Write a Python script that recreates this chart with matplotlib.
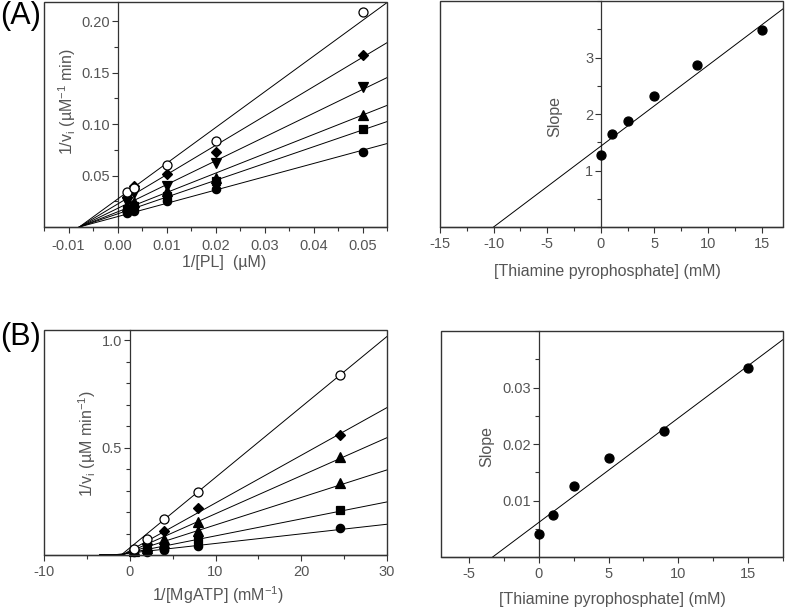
import matplotlib
matplotlib.use('Agg')
import matplotlib.pyplot as plt
import numpy as np
from matplotlib.ticker import MultipleLocator, FixedLocator, FormatStrFormatter
from matplotlib.patches import Rectangle

plt.rcParams['font.family'] = ['Liberation Sans', 'DejaVu Sans']
plt.rcParams['mathtext.default'] = 'regular'
plt.rcParams['axes.unicode_minus'] = False

# ---------------- data ----------------
# Panel A (left): 1/v vs 1/[PL]
pl_x = [0.002, 0.0033, 0.01, 0.02, 0.05]
a_open    = [0.034, 0.038, 0.0603, 0.0837, 0.209]
a_diamond = [0.029, 0.0395, 0.0519, 0.0731, 0.1675]
a_invtri  = [0.024, 0.033, 0.0395, 0.0623, 0.136]
a_tri     = [0.020, 0.024, 0.0346, 0.0477, 0.1084]
a_square  = [0.017, 0.020, 0.0302, 0.0444, 0.0947]
a_circle  = [0.014, 0.016, 0.0249, 0.0370, 0.0726]
a_line_slopes = [3.47, 2.85, 2.31, 1.88, 1.63, 1.29]
a_line_xint = -0.0078

# Panel A (right): slope replot
tpp = [0, 1, 2.5, 5, 9, 15]
a_replot = [1.28, 1.64, 1.87, 2.31, 2.86, 3.48]
a_replot_xint = -10.0
a_replot_slope = 0.143

# Panel B (left): 1/v vs 1/[MgATP]
mg_x = [0.5, 2, 4, 8, 24.5]
b_open    = [0.028, 0.073, 0.166, 0.295, 0.837]
b_diamond = [0.025, 0.052, 0.111, 0.217, 0.559]
b_tri     = [0.022, 0.042, 0.075, 0.153, 0.455]
b_tri2    = [0.020, 0.032, 0.058, 0.111, 0.335]
b_square  = [0.017, 0.022, 0.035, 0.069, 0.209]
b_circle  = [0.014, 0.015, 0.022, 0.041, 0.125]
b_line_slopes = [0.0328, 0.0222, 0.0177, 0.0128, 0.0079, 0.00447]
b_line_icepts = [0.033, 0.020, 0.015, 0.012, 0.010, 0.009]
b_line_start = -3.5

# Panel B (right): slope replot
b_replot = [0.0040, 0.0075, 0.0126, 0.0176, 0.0223, 0.0335]
b_replot_xint = -3.3
b_replot_slope = 0.00185

# ---------------- style ----------------
TXT = '#555555'
SPN = '#333333'
TICK_FS = 10.5
LAB_FS = 11.5

fig = plt.figure(figsize=(7.87, 6.10), dpi=100)
W, H = 787.0, 610.0

def make_ax(l, t, r, b):
    return fig.add_axes([l / W, 1 - b / H, (r - l) / W, (b - t) / H])

def style(ax, xlim, ylim, xmaj, xmin, xfmt, ymaj, ymin, yfmt, xpad=3):
    ax.set_xlim(*xlim)
    ax.set_ylim(*ylim)
    for s in ['top', 'right']:
        ax.spines[s].set_visible(False)
    ax.spines['left'].set_position(('data', 0))
    for s in ['left', 'bottom']:
        ax.spines[s].set_color(SPN)
        ax.spines[s].set_linewidth(0.9)
    ax.add_patch(Rectangle((0, 0), 1, 1, transform=ax.transAxes, fill=False,
                           ec=SPN, lw=1.0, clip_on=False, zorder=5))
    ax.xaxis.set_major_locator(FixedLocator(xmaj))
    ax.xaxis.set_minor_locator(MultipleLocator(xmin))
    ax.xaxis.set_major_formatter(FormatStrFormatter(xfmt))
    ax.yaxis.set_major_locator(FixedLocator(ymaj))
    ax.yaxis.set_minor_locator(MultipleLocator(ymin))
    ax.yaxis.set_major_formatter(FormatStrFormatter(yfmt))
    ax.tick_params(which='both', direction='out', color=SPN, labelcolor=TXT,
                   labelsize=TICK_FS, width=0.8)
    ax.tick_params(which='major', length=4)
    ax.tick_params(which='minor', length=3)
    ax.tick_params(axis='x', which='major', pad=xpad)
    ax.tick_params(axis='y', which='major', pad=1.5)

def ylab(ax, txt, x, y):
    ax.text(x, y, txt, transform=ax.transAxes, rotation=90, ha='center',
            va='center', fontsize=LAB_FS, color=TXT)

def xlab(ax, txt, x, y):
    ax.text(x, y, txt, transform=ax.transAxes, ha='center', va='center',
            fontsize=LAB_FS, color=TXT)

def mk(ax, x, y, marker, open_=False, ms=6):
    ax.plot(x, y, linestyle='none', marker=marker, ms=ms,
            mfc='white' if open_ else 'black', mec='black', mew=0.9,
            zorder=4, clip_on=False)

# ---------------- Panel A left ----------------
ax = make_ax(44, 2, 387, 227)
style(ax, (-0.015, 0.055), (0, 0.2185), [-0.01, 0, 0.01, 0.02, 0.03, 0.04, 0.05],
      0.005, '%.2f', [0.05, 0.10, 0.15, 0.20], 0.025, '%.2f', xpad=4.5)
xs = np.linspace(a_line_xint, 0.055, 50)
for m in a_line_slopes:
    ax.plot(xs, m * (xs - a_line_xint), color='black', lw=0.7, zorder=3)
mk(ax, pl_x, a_circle, 'o')
mk(ax, pl_x, a_square, 's', ms=5.5)
mk(ax, pl_x, a_tri, '^', ms=6.5)
mk(ax, pl_x, a_invtri, 'v', ms=6.5)
mk(ax, pl_x, a_diamond, 'D', ms=5)
mk(ax, pl_x, a_open, 'o', open_=True, ms=6.5)
ylab(ax, r'1/v$_{i}$ (µM$^{-1}$ min)', 0.067, 0.556)
xlab(ax, '1/[PL]  (µM)', 0.525, -0.156)

# ---------------- Panel A right ----------------
ax = make_ax(440, 1, 783, 227)
style(ax, (-15, 17), (0, 4.0), [-15, -10, -5, 0, 5, 10, 15], 2.5, '%d',
      [1, 2, 3], 0.5, '%d')
xs = np.linspace(a_replot_xint, 17, 50)
ax.plot(xs, a_replot_slope * (xs - a_replot_xint), color='black', lw=0.7, zorder=3)
mk(ax, tpp, a_replot, 'o', ms=6.5)
ylab(ax, 'Slope', 0.335, 0.487)
xlab(ax, '[Thiamine pyrophosphate] (mM)', 0.487, -0.195)

# ---------------- Panel B left ----------------
ax = make_ax(44, 330, 387, 555)
style(ax, (-10, 30), (0, 1.047), [-10, 0, 10, 20, 30], 5, '%d',
      [0.5, 1.0], 0.1, '%.1f')
xs = np.linspace(b_line_start, 30, 200)
for m, c in zip(b_line_slopes, b_line_icepts):
    ax.plot(xs, np.maximum(m * xs + c, 0.0), color='black', lw=0.7, zorder=3)
mk(ax, mg_x, b_circle, 'o')
mk(ax, mg_x, b_square, 's', ms=5.5)
mk(ax, mg_x, b_tri2, '^', ms=6.5)
mk(ax, mg_x, b_tri, '^', ms=6.5)
mk(ax, mg_x, b_diamond, 'D', ms=5)
mk(ax, mg_x, b_open, 'o', open_=True, ms=6.5)
ylab(ax, r'1/v$_{i}$ (µM min$^{-1}$)', 0.125, 0.493)
xlab(ax, r'1/[MgATP] (mM$^{-1}$)', 0.507, -0.178)

# ---------------- Panel B right ----------------
ax = make_ax(441, 331, 783, 557)
style(ax, (-7, 17.5), (0, 0.04), [-5, 0, 5, 10, 15], 2.5, '%d',
      [0.01, 0.02, 0.03], 0.005, '%.2f')
xs = np.linspace(b_replot_xint, 17.5, 50)
ax.plot(xs, b_replot_slope * (xs - b_replot_xint), color='black', lw=0.7, zorder=3)
mk(ax, tpp, b_replot, 'o', ms=6.5)
ylab(ax, 'Slope', 0.1345, 0.487)
xlab(ax, '[Thiamine pyrophosphate] (mM)', 0.50, -0.19)

# ---------------- panel letters ----------------
fig.text(0.0, 1 - 1 / H, '(A)', ha='left', va='top', fontsize=22, color='black')
fig.text(0.0, 1 - 322 / H, '(B)', ha='left', va='top', fontsize=22, color='black')

fig.savefig('out.png', dpi=100)
